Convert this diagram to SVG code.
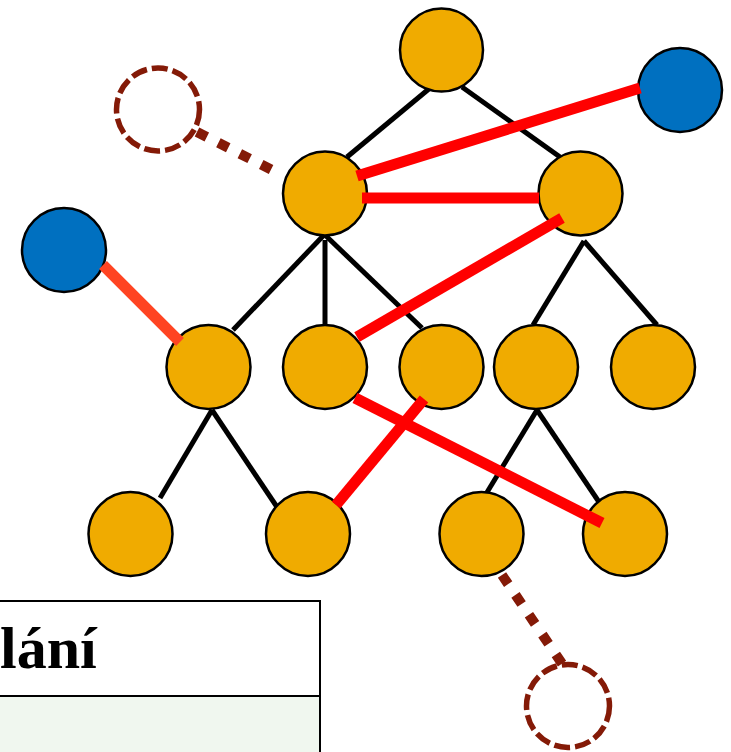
<svg xmlns="http://www.w3.org/2000/svg" width="731" height="752" viewBox="0 0 731 752">
<style>
.node{fill:#F0AB00;stroke:#000;stroke-width:2.5}
.blue{fill:#0070C0;stroke:#000;stroke-width:2.5}
.ghost{fill:none;stroke:#841A07;stroke-width:5.5;stroke-dasharray:16 5}
.tree{stroke:#000;stroke-width:5;fill:none}
.red{stroke:#FF0000;stroke-width:11;fill:none}
.red2{stroke:#FF4422;stroke-width:11;fill:none}
.dots{stroke:#841A07;stroke-width:10;stroke-dasharray:11 13;fill:none}
.lbl{font-family:"Liberation Serif","DejaVu Serif",serif;font-weight:bold;font-size:60px;fill:#000}
</style>
<rect width="731" height="752" fill="#fff"/>
<g id="table">
<rect x="-3" y="601" width="323" height="95" fill="#fff" stroke="#000" stroke-width="2"/>
<rect x="-3" y="696" width="323" height="70" fill="#F0F7EF" stroke="#000" stroke-width="2"/>
<text class="lbl" x="0" y="668">lání</text>
</g>
<g id="tree-edges">
<line class="tree" x1="430" y1="88" x2="347" y2="157"/>
<line class="tree" x1="462" y1="87" x2="560" y2="157"/>
<line class="tree" x1="324" y1="235" x2="233" y2="330"/>
<line class="tree" x1="325" y1="240" x2="325" y2="326"/>
<line class="tree" x1="325" y1="235" x2="422" y2="328"/>
<line class="tree" x1="584" y1="241" x2="533" y2="325"/>
<line class="tree" x1="584" y1="241" x2="657" y2="325"/>
<line class="tree" x1="212" y1="410" x2="160" y2="498"/>
<line class="tree" x1="212" y1="410" x2="277" y2="507"/>
<line class="tree" x1="537" y1="410" x2="486" y2="494"/>
<line class="tree" x1="537" y1="410" x2="599" y2="502"/>
</g>
<g id="n-root"><circle class="node" cx="441.5" cy="50" r="41.5"/></g>
<g id="n-l1a"><circle class="node" cx="325" cy="193.5" r="42"/></g>
<g id="n-l1b"><circle class="node" cx="580.5" cy="193.5" r="42"/></g>
<g id="n-l2a"><circle class="node" cx="208.5" cy="367" r="42"/></g>
<g id="n-l2b"><circle class="node" cx="325" cy="367" r="42"/></g>
<g id="n-l2c"><circle class="node" cx="441.5" cy="367" r="42"/></g>
<g id="n-l2d"><circle class="node" cx="536" cy="367" r="42"/></g>
<g id="n-l2e"><circle class="node" cx="653" cy="367" r="42"/></g>
<g id="n-l3a"><circle class="node" cx="130.5" cy="534" r="42"/></g>
<g id="n-l3b"><circle class="node" cx="308" cy="534" r="42"/></g>
<g id="n-l3c"><circle class="node" cx="481.5" cy="534" r="42"/></g>
<g id="n-l3d"><circle class="node" cx="625" cy="534" r="42"/></g>
<g id="n-blue-right"><circle class="blue" cx="680" cy="90" r="42"/></g>
<g id="n-blue-left"><circle class="blue" cx="64" cy="250" r="42"/></g>
<g id="n-ghost-top"><circle class="ghost" cx="158" cy="109.5" r="41.5"/></g>
<g id="n-ghost-bottom"><circle class="ghost" cx="568" cy="706" r="41.5"/></g>
<g id="connectors">
<line class="red" x1="357" y1="176" x2="640" y2="88"/>
<line class="red" x1="362" y1="198" x2="539" y2="198"/>
<line class="red" x1="562" y1="218" x2="357" y2="337"/>
<line class="red" x1="424" y1="399" x2="336" y2="505"/>
<line class="red" x1="355" y1="398" x2="602" y2="523"/>
<line class="red2" x1="103" y1="265" x2="180" y2="342"/>
<line class="dots" x1="197" y1="132" x2="282" y2="175"/>
<line class="dots" x1="502" y1="575" x2="563" y2="665"/>
</g>
</svg>
